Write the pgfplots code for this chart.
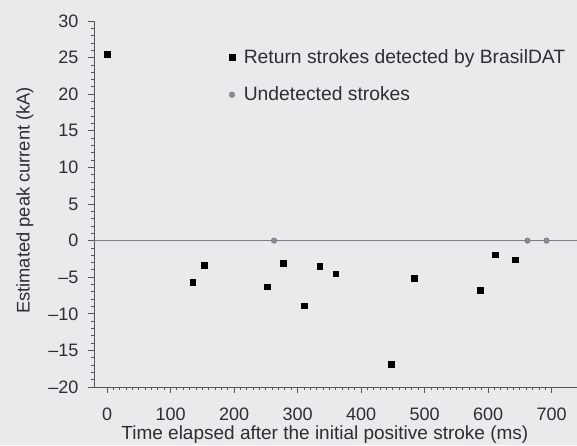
\documentclass[border=0pt]{standalone}
\usepackage{fontspec}
\setmainfont{Liberation Sans}
\usepackage{pgfplots}
\pgfplotsset{compat=1.18}
\definecolor{bgpage}{RGB}{234,234,237}
\definecolor{axgray}{RGB}{85,85,90}
\definecolor{zerogray}{RGB}{125,125,132}
\definecolor{txtgray}{RGB}{45,45,50}
\definecolor{undet}{RGB}{140,140,148}
\begin{document}
\begin{tikzpicture}
% page area: 577 x 445 (1px = 1pt), axis box corner at pixel (94,387)
\fill[bgpage] (-94pt,-58pt) rectangle (483pt,387pt);
\useasboundingbox (-94pt,-58pt) rectangle (483pt,387pt);
\begin{axis}[
  at={(0,0)}, anchor=south west,
  scale only axis, width=483pt, height=366pt,
  xmin=-20.5, xmax=740, ymin=-20, ymax=30,
  axis x line*=bottom, axis y line*=left,
  axis line style={axgray, line width=0.9pt, -},
  xtick={0,100,...,700},
  ytick={-20,-15,...,30},
  yticklabels={–20,–15,–10,–5,0,5,10,15,20,25,30},
  minor x tick num=9, minor y tick num=4,
  tick align=outside,
  major tick length=6pt, minor tick length=3pt,
  tick style={axgray, line width=0.8pt},
  font=\fontsize{18}{21}\selectfont,
  tick label style={txtgray, font=\fontsize{18}{21}\selectfont},
  xticklabel style={yshift=-11pt},
  yticklabel style={xshift=-6pt},
  /pgf/number format/assume math mode=true,
  xlabel={Time elapsed after the initial positive stroke (ms)},
  ylabel={Estimated peak current (kA)},
  xlabel style={at={(axis description cs:0.478,-0.129)}, anchor=center,
    txtgray, font=\fontsize{19}{21}\selectfont},
  ylabel style={at={(axis description cs:-0.1429,0.51)}, anchor=center,
    txtgray, font=\fontsize{18.3}{21}\selectfont},
  legend style={draw=none, fill=none, at={(0.272,0.931)}, anchor=north west,
    font=\fontsize{19.3}{21}\selectfont, text=txtgray, row sep=20pt,
    nodes={inner sep=1pt}},
  legend cell align=left,
  legend image code/.code={\path[draw=none, fill=none] (0,0) rectangle (0.5cm,0.1cm);
    \draw[#1] plot coordinates {(0.12cm,0cm)};},
  clip=false,
]
\addplot[zerogray, line width=1pt, forget plot] coordinates {(-20.5,0) (740,0)};
\addplot[only marks, mark=square*, mark size=2.8pt, black]
  coordinates {
  (0,25.5) (135,-5.7) (153,-3.4) (252,-6.3) (277,-3.1) (310,-8.9)
  (335,-3.5) (360,-4.5) (447,-16.9) (484,-5.1) (588,-6.8)
  (611,-1.9) (643,-2.6)
  };
\addlegendentry{Return strokes detected by BrasilDAT}
\addplot[only marks, mark=*, mark size=2.8pt, draw=undet!80!black, fill=undet]
  coordinates {(263,0) (662,0) (692,0)};
\addlegendentry{Undetected strokes}
\end{axis}
\end{tikzpicture}
\end{document}
